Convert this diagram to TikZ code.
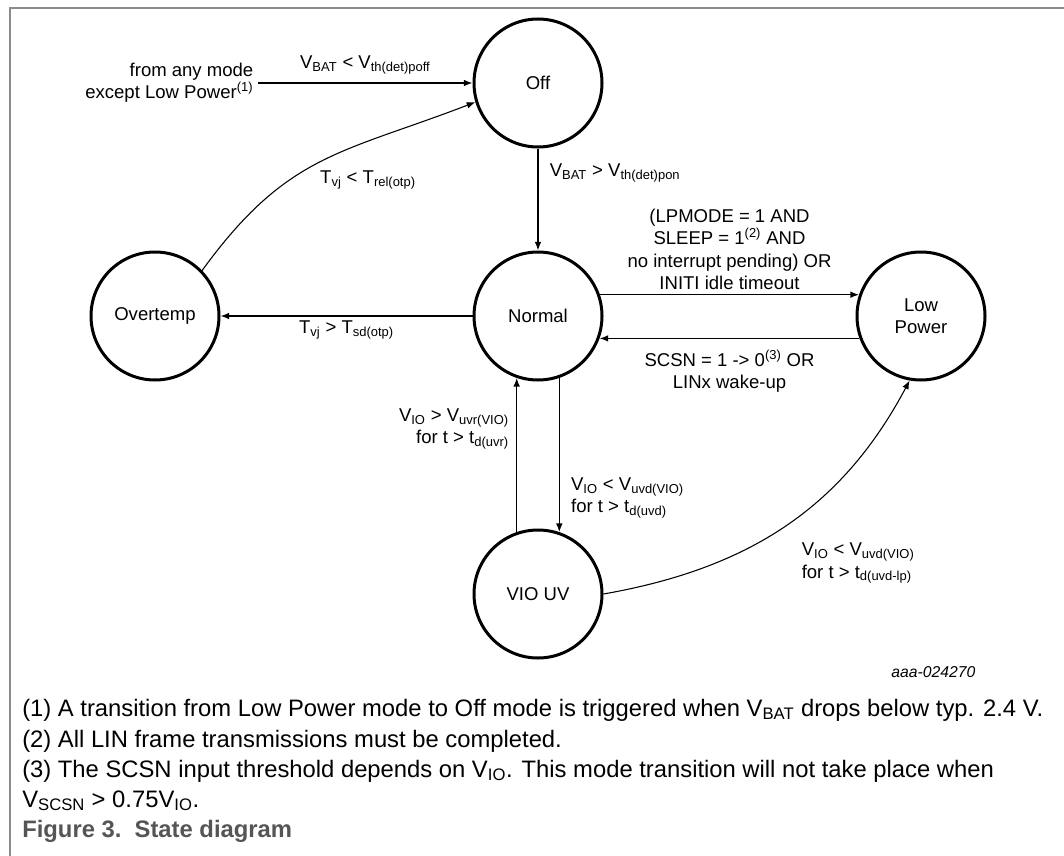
\documentclass[tikz,border=0pt]{standalone}
\usepackage{fontspec}
\setmainfont{Liberation Sans}
\usetikzlibrary{arrows.meta}
\definecolor{framegray}{RGB}{140,140,140}
\definecolor{capgray}{RGB}{85,85,85}

\begin{document}
\begin{tikzpicture}[
            x=0.75pt, y=0.75pt,
            lbl/.style={
              font=\fontsize{13.9}{16.7}\selectfont
            },
            state/.style={
              lbl, draw, circle,
              line width=2.25pt,
              minimum size=96pt,
              inner sep=0pt,
              align=center
            },
            tr/.style={
              line width=1pt,
              -{Latex[length=6.5pt,width=5pt]}
            },
            note/.style={
              anchor=base west, inner sep=0pt,
              font=\fontsize{17.85}{22.5}\selectfont
            }
        ]
    \useasboundingbox (0,0) rectangle (1064,-856);
    \draw[framegray, line width=1.5pt] (1064,-8) -- (10,-8) -- (10,-856);

    \foreach \n/\x/\y/\t in {off/538/83/Off, norm/538/316/Normal, ot/155/316/Overtemp, vio/538/594/VIO UV}
      \node[state] (\n) at (\x,-\y) {\t};
    \node[state] (lp) at (921,-316) {Low\\Power};

    \node[lbl, align=right, anchor=east] (any) at (258,-83)
      {from any mode\\except Low Power\textsuperscript{(1)}};

    % transitions
    \draw[tr] (any.east) -- node[lbl, above=3pt]
      {V\textsubscript{BAT} < V\textsubscript{th(det)poff}} (off);
    \draw[tr] (off) -- node[lbl, right=5pt, pos=0.24]
      {V\textsubscript{BAT} > V\textsubscript{th(det)pon}} (norm);
    \draw[tr, line width=0.8pt] (ot.44) to[out=54, in=201, looseness=1.15]
      node[lbl, pos=0.5, anchor=north, xshift=36pt, yshift=-3pt]
      {T\textsubscript{vj} < T\textsubscript{rel(otp)}} (off.197);
    \draw[tr] (norm) -- node[lbl, below]
      {T\textsubscript{vj} > T\textsubscript{sd(otp)}} (ot);
    \draw[tr] (norm.19) -- node[lbl, above, align=center]
      {(LPMODE = 1 AND\\SLEEP = 1\textsuperscript{(2)} AND\\no interrupt pending) OR\\INITI idle timeout} (lp.161);
    \draw[tr] (lp.-160) -- node[lbl, below=5pt, align=center]
      {SCSN = 1 -> 0\textsuperscript{(3)} OR\\LINx wake-up} (norm.-20);
    \draw[tr] (norm.-71) -- node[lbl, right=5pt, align=left, pos=0.78]
      {V\textsubscript{IO} < V\textsubscript{uvd(VIO)}\\for t > t\textsubscript{d(uvd)}} (vio.71);
    \draw[tr] (vio.109) -- node[lbl, left=2pt, align=right, pos=0.67]
      {V\textsubscript{IO} > V\textsubscript{uvr(VIO)}\\for t > t\textsubscript{d(uvr)}} (norm.-109);
    \draw[tr, line width=0.8pt] (vio.east) to[out=10, in=242]
      node[lbl, pos=0.5, anchor=north west, xshift=9pt, yshift=-9pt, align=left]
      {V\textsubscript{IO} < V\textsubscript{uvd(VIO)}\\for t > t\textsubscript{d(uvd-lp)}} (lp.-100);

    \node[font=\fontsize{11.8}{14}\selectfont\itshape, anchor=east] (id) at (980,-672) {aaa-024270};

    % notes
    \foreach \y/\t in {716/{(1) A transition from Low Power mode to Off mode is triggered when V\textsubscript{BAT} drops below typ. 2.4 V.},
                       747/{(2) All LIN frame transmissions must be completed.},
                       777/{(3) The SCSN input threshold depends on V\textsubscript{IO}. This mode transition will not take place when},
                       807/{V\textsubscript{SCSN} > 0.75V\textsubscript{IO}.}}
        \node[note] at (22,-\y) {\t};
    \node[note, text=capgray, font=\fontsize{17.85}{22.5}\selectfont\bfseries] (cap) at (22,-837) {Figure 3.\ \ State diagram};

    \end{tikzpicture}
\end{document}
